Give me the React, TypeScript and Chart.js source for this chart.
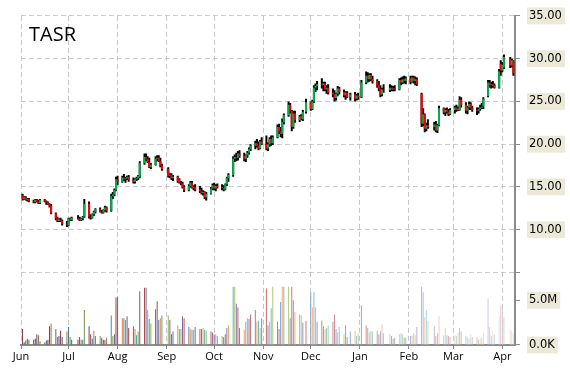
import React, { useEffect, useRef } from 'react';
import { Chart, registerables } from 'chart.js';

Chart.register(...registerables);

// ---- Data (price in USD, volume in millions of shares) ----
const JUN_DAYS = [2, 3, 4, 5, 6, 9, 10, 11, 12, 13, 16, 17, 18, 19, 20, 23, 24, 25, 26, 27, 30];
const JUN_OHLC = [
  [14.0, 14.2, 13.4, 13.6], [13.6, 13.9, 13.5, 13.8], [13.8, 13.9, 13.4, 13.5], [13.5, 13.7, 13.3, 13.6],
  [13.6, 13.7, 13.2, 13.3], [13.3, 13.5, 13.1, 13.2], [13.2, 13.6, 13.1, 13.5], [13.5, 13.6, 13.2, 13.3],
  [13.3, 13.5, 13.0, 13.1], [13.1, 13.6, 13.0, 13.5], [13.5, 13.6, 13.2, 13.3], [13.3, 13.4, 12.9, 13.2],
  [13.2, 13.3, 12.9, 13.0], [13.0, 13.1, 12.6, 12.8], [12.8, 13.0, 11.8, 11.9], [11.9, 12.0, 11.1, 11.3],
  [11.3, 11.5, 10.9, 11.0], [11.0, 11.3, 10.9, 11.2], [11.2, 11.4, 10.9, 11.0], [11.0, 11.2, 10.5, 10.7],
  [10.7, 11.0, 10.3, 10.6],
];
const JUN_VOL = [1.8, 0.3, 0.5, 0.7, 0.6, 0.6, 0.7, 1.2, 1.1, 0.4, 0.3, 0.5, 0.6, 2.1, 2.4, 1.8, 0.9, 1.0, 1.6, 0.9, 1.5];

const JUL_DAYS = [1, 2, 3, 7, 8, 9, 10, 11, 14, 15, 16, 17, 18, 21, 22, 23, 24, 25, 28, 29, 30, 31];
const JUL_OHLC = [
  [10.5, 11.4, 10.4, 11.3], [11.3, 11.4, 11.0, 11.1], [11.1, 11.5, 11.0, 11.4], [11.4, 11.7, 11.2, 11.3],
  [11.3, 11.5, 11.0, 11.1], [11.1, 11.4, 11.0, 11.3], [11.3, 11.6, 11.1, 11.5], [11.5, 13.6, 11.4, 13.0],
  [13.0, 13.3, 11.3, 11.5], [11.5, 11.8, 11.2, 11.4], [11.4, 11.9, 11.3, 11.8], [11.8, 12.2, 11.6, 12.1],
  [12.1, 12.5, 11.9, 12.4], [12.4, 12.6, 12.0, 12.1], [12.1, 12.3, 11.9, 12.0], [12.0, 12.4, 11.9, 12.3],
  [12.3, 12.8, 12.1, 12.6], [12.6, 12.7, 12.0, 12.2], [12.2, 14.2, 12.1, 13.9], [13.9, 14.4, 13.6, 14.1],
  [14.1, 14.8, 13.9, 14.6], [14.6, 16.2, 14.5, 15.9],
];
const JUL_VOL = [2.0, 0.9, 0.6, 0.6, 0.9, 0.6, 0.6, 3.9, 2.1, 1.2, 0.7, 1.6, 1.0, 1.0, 0.8, 0.6, 0.6, 0.8, 3.3, 1.0, 1.2, 5.3];

const AUG_DAYS = [1, 4, 5, 6, 7, 8, 11, 12, 13, 14, 15, 18, 19, 20, 21, 22, 25, 26, 27, 28, 29];
const AUG_OHLC = [
  [15.9, 16.3, 15.2, 15.6], [15.6, 16.3, 15.5, 16.1], [16.1, 16.5, 15.7, 15.9], [15.9, 16.2, 15.5, 16.0],
  [16.0, 16.3, 15.8, 16.2], [16.2, 16.4, 15.6, 15.8], [15.8, 16.1, 15.4, 15.6], [15.6, 16.0, 15.4, 15.9],
  [15.9, 16.2, 15.7, 16.0], [16.0, 16.4, 15.8, 16.3], [16.2, 18.0, 16.0, 17.8], [17.8, 18.9, 17.6, 18.5],
  [18.5, 18.9, 18.0, 18.3], [18.3, 18.6, 17.8, 17.9], [17.9, 18.4, 17.2, 17.3], [17.3, 17.8, 17.1, 17.6],
  [17.6, 18.6, 17.5, 18.3], [18.3, 18.7, 18.0, 18.4], [18.4, 18.7, 17.9, 18.0], [18.0, 18.4, 17.3, 17.5],
  [17.5, 17.7, 16.9, 17.1],
];
const AUG_VOL = [5.4, 3.0, 3.0, 2.8, 3.2, 1.9, 2.1, 1.8, 1.1, 1.5, 6.0, 6.4, 6.4, 3.9, 2.9, 2.4, 4.0, 4.9, 2.8, 3.0, 3.3];

const SEP_DAYS = [2, 3, 4, 5, 8, 9, 10, 11, 12, 15, 16, 17, 18, 19, 22, 23, 24, 25, 26, 29, 30];
const SEP_OHLC = [
  [17.1, 17.3, 16.1, 16.3], [16.3, 16.6, 16.0, 16.4], [16.4, 16.6, 15.8, 16.0], [16.0, 16.4, 15.7, 16.2],
  [16.2, 16.3, 15.5, 15.7], [15.9, 16.0, 15.4, 15.5], [15.5, 15.7, 15.2, 15.4], [15.4, 15.6, 14.8, 15.0],
  [15.0, 15.2, 14.4, 14.6], [14.6, 15.3, 14.5, 15.1], [15.1, 15.7, 14.9, 15.5], [15.5, 15.7, 14.8, 14.9],
  [14.9, 15.2, 14.6, 15.0], [15.0, 15.3, 14.5, 14.7], [14.7, 15.1, 14.3, 14.5], [14.5, 14.9, 14.1, 14.3],
  [14.3, 14.6, 14.0, 14.4], [14.4, 14.5, 13.6, 13.8], [13.8, 14.4, 13.4, 14.2], [14.2, 15.0, 14.1, 14.8],
  [14.8, 15.4, 14.6, 15.2],
];
const SEP_VOL = [3.3, 2.8, 1.2, 1.5, 2.2, 1.8, 1.8, 3.2, 3.0, 2.0, 1.8, 1.7, 1.7, 2.0, 1.8, 1.8, 1.9, 1.7, 1.6, 1.5, 1.4];

const OCT_DAYS = [1, 2, 3, 6, 7, 8, 9, 10, 13, 14, 15, 16, 17, 20, 21, 22, 23, 24, 27, 28, 29, 30, 31];
const OCT_OHLC = [
  [15.2, 15.5, 14.6, 14.8], [14.8, 15.3, 14.5, 15.1], [15.1, 15.4, 14.8, 15.0], [15.0, 15.3, 14.6, 14.9],
  [14.9, 15.2, 14.5, 14.7], [14.7, 15.4, 14.6, 15.3], [15.3, 16.2, 15.1, 16.0], [16.0, 16.6, 15.6, 16.4],
  [16.4, 18.6, 16.2, 18.3], [18.3, 18.8, 17.9, 18.5], [18.5, 19.0, 18.0, 18.4], [18.4, 19.2, 18.1, 18.9],
  [18.9, 19.3, 18.4, 18.6], [18.6, 19.0, 18.0, 18.3], [18.3, 18.8, 17.9, 18.7], [18.7, 19.2, 18.4, 19.0],
  [19.0, 19.6, 18.8, 19.4], [19.4, 20.0, 19.2, 19.8], [19.8, 20.4, 19.4, 20.1], [20.1, 20.6, 19.6, 19.8],
  [19.8, 20.3, 19.3, 19.5], [19.5, 20.5, 19.4, 20.3], [20.3, 20.8, 19.9, 20.0],
];
const OCT_VOL = [1.2, 1.2, 1.0, 1.0, 0.9, 1.2, 1.9, 2.2, 6.5, 6.5, 4.6, 4.2, 1.9, 1.7, 2.6, 3.0, 2.9, 3.4, 3.9, 2.6, 2.7, 1.9, 3.0];

const NOV_DAYS = [3, 4, 5, 6, 7, 10, 11, 12, 13, 14, 17, 18, 19, 20, 21, 24, 25, 26, 28];
const NOV_OHLC = [
  [20.0, 21.0, 19.3, 19.5], [19.5, 20.2, 19.2, 20.0], [20.0, 20.8, 19.7, 20.6], [20.6, 21.0, 19.8, 20.1],
  [20.1, 21.0, 19.9, 20.8], [20.8, 22.3, 20.7, 22.0], [22.0, 22.4, 21.2, 21.5], [21.5, 22.0, 20.8, 21.2],
  [21.2, 23.0, 20.7, 22.6], [22.6, 23.6, 22.3, 23.4], [23.4, 25.0, 23.2, 24.6], [24.6, 24.8, 23.6, 23.9],
  [23.9, 24.0, 21.5, 22.0], [22.0, 23.9, 21.8, 23.6], [23.6, 23.9, 22.5, 22.8], [22.8, 23.4, 22.6, 23.2],
  [23.3, 23.5, 22.8, 22.9], [22.9, 24.0, 22.7, 23.8], [23.8, 25.3, 23.6, 24.9],
];
const NOV_VOL = [6.3, 2.2, 2.6, 4.1, 6.5, 2.6, 1.8, 4.8, 6.5, 6.5, 6.5, 3.0, 6.5, 5.0, 3.7, 3.4, 3.3, 2.5, 2.7];

const DEC_DAYS = [1, 2, 3, 4, 5, 8, 9, 10, 11, 12, 15, 16, 17, 18, 19, 22, 23, 24, 26, 29, 30, 31];
const DEC_OHLC = [
  [24.9, 25.0, 23.9, 24.1], [24.1, 25.2, 24.0, 25.0], [25.0, 26.9, 24.8, 26.6], [26.6, 27.1, 26.1, 26.8],
  [26.8, 27.4, 26.3, 27.0], [27.0, 27.7, 26.5, 26.9], [26.9, 27.3, 26.2, 27.1], [27.1, 27.3, 26.2, 26.4],
  [26.4, 26.9, 25.9, 26.6], [26.6, 27.0, 25.8, 26.0], [26.0, 26.5, 25.5, 25.8], [25.8, 26.3, 25.0, 25.4],
  [25.4, 26.0, 25.1, 25.9], [25.9, 26.8, 25.6, 26.5], [26.5, 26.7, 25.8, 26.1], [26.1, 26.4, 25.5, 25.7],
  [25.7, 26.2, 25.2, 26.0], [26.0, 26.2, 25.4, 25.5], [25.5, 26.0, 25.1, 25.8], [25.8, 26.1, 25.0, 25.3],
  [25.3, 25.9, 25.1, 25.7], [25.7, 26.0, 25.2, 25.5],
];
const DEC_VOL = [5.9, 4.2, 5.9, 4.2, 2.6, 2.7, 2.1, 1.8, 1.9, 2.2, 2.6, 3.4, 1.8, 1.4, 2.0, 1.2, 2.2, 0.9, 1.5, 1.6, 1.0, 1.3];

const JAN_DAYS = [2, 5, 6, 7, 8, 9, 12, 13, 14, 15, 16, 20, 21, 22, 23, 26, 27, 28, 29, 30];
const JAN_OHLC = [
  [25.5, 27.5, 25.4, 27.2], [27.2, 28.5, 27.0, 28.0], [28.0, 28.4, 27.2, 27.6], [27.6, 28.3, 27.3, 28.1],
  [28.1, 28.3, 27.4, 27.6], [27.6, 28.0, 27.1, 27.4], [27.4, 27.6, 26.6, 26.9], [26.9, 27.4, 26.2, 26.5],
  [26.5, 26.9, 25.5, 25.8], [25.8, 26.6, 25.6, 26.4], [26.4, 27.0, 26.0, 26.3], [26.3, 27.0, 26.1, 26.6],
  [26.6, 26.9, 26.2, 26.4], [26.4, 26.8, 26.2, 26.5], [26.5, 26.9, 26.2, 26.4], [26.4, 27.7, 26.3, 27.5],
  [27.5, 27.8, 26.9, 27.2], [27.2, 27.9, 27.0, 27.6], [27.6, 28.0, 27.1, 27.4], [27.4, 27.9, 27.0, 27.7],
];
const JAN_VOL = [4.4, 2.2, 1.9, 1.4, 1.6, 1.5, 1.6, 1.2, 1.5, 2.3, 1.3, 1.2, 1.0, 0.7, 0.8, 1.2, 1.3, 1.2, 0.8, 0.8];

const FEB_DAYS = [2, 3, 4, 5, 6, 9, 10, 11, 12, 13, 17, 18, 19, 20, 23, 24, 25, 26, 27];
const FEB_OHLC = [
  [27.7, 28.0, 27.0, 27.3], [27.3, 28.0, 27.2, 27.8], [27.8, 28.0, 27.1, 27.4], [27.4, 27.9, 26.9, 27.6],
  [27.6, 27.8, 26.8, 27.0], [25.9, 26.0, 22.0, 22.4], [22.4, 24.2, 22.1, 23.5], [23.5, 23.6, 21.4, 21.8],
  [21.8, 22.5, 21.5, 22.2], [22.2, 22.9, 21.8, 22.0], [22.0, 22.6, 21.6, 22.3], [22.3, 22.7, 21.4, 21.6],
  [21.6, 22.4, 21.3, 22.2], [22.2, 24.5, 22.1, 24.2], [24.2, 24.3, 23.5, 23.7], [23.7, 24.2, 23.3, 24.0],
  [24.0, 24.3, 23.6, 23.8], [23.8, 24.1, 23.3, 23.5], [23.5, 24.2, 23.4, 24.0],
];
const FEB_VOL = [1.0, 1.1, 1.3, 1.1, 2.0, 6.5, 5.9, 3.1, 3.9, 2.7, 2.1, 1.0, 1.3, 3.2, 1.1, 1.9, 1.1, 1.0, 0.9];

const MAR_DAYS = [2, 3, 4, 5, 6, 9, 10, 11, 12, 13, 16, 17, 18, 19, 20, 23, 24, 25, 26, 27, 30, 31];
const MAR_OHLC = [
  [24.0, 24.5, 23.6, 24.3], [24.3, 24.6, 23.8, 24.0], [24.2, 24.4, 23.9, 24.0], [24.0, 25.6, 23.9, 25.2],
  [25.2, 25.5, 24.3, 24.6], [24.6, 24.9, 23.6, 23.9], [23.9, 24.5, 23.5, 24.3], [24.3, 25.0, 24.0, 24.7],
  [24.7, 24.9, 24.0, 24.2], [24.2, 24.5, 23.8, 24.0], [24.0, 24.3, 23.4, 23.9], [23.9, 24.3, 23.6, 24.1],
  [24.1, 24.6, 23.9, 24.3], [24.3, 24.8, 24.1, 24.4], [24.4, 25.5, 24.1, 25.3], [25.6, 27.5, 25.5, 27.2],
  [27.2, 27.5, 26.6, 26.9], [26.9, 27.3, 26.5, 27.0], [27.0, 27.4, 26.6, 26.8], [26.9, 27.1, 26.5, 26.6],
  [26.6, 28.8, 26.5, 28.5], [29.4, 29.8, 28.0, 28.6],
];
const MAR_VOL = [1.1, 1.0, 1.4, 1.9, 1.5, 1.0, 0.9, 0.7, 1.2, 0.9, 0.9, 0.6, 0.7, 0.8, 1.3, 5.2, 2.0, 1.0, 1.6, 1.2, 3.2, 4.5];

const APR_DAYS = [1, 2, 6, 7, 8];
const APR_OHLC = [
  [28.6, 29.6, 28.4, 29.3], [29.0, 30.5, 28.8, 30.2], [30.0, 30.2, 28.9, 29.2], [29.2, 30.0, 29.0, 29.8],
  [29.7, 29.8, 28.0, 28.3],
];
const APR_VOL = [4.2, 3.1, 1.7, 1.6, 1.2];

const MONTH_LABELS = ['Jun', 'Jul', 'Aug', 'Sep', 'Oct', 'Nov', 'Dec', 'Jan', 'Feb', 'Mar', 'Apr'];
const MONTH_YEARS = [2014, 2014, 2014, 2014, 2014, 2014, 2014, 2015, 2015, 2015, 2015];
const MONTH_NUMS = [5, 6, 7, 8, 9, 10, 11, 0, 1, 2, 3];
const MONTH_SERIES = [
  [JUN_DAYS, JUN_OHLC, JUN_VOL], [JUL_DAYS, JUL_OHLC, JUL_VOL], [AUG_DAYS, AUG_OHLC, AUG_VOL],
  [SEP_DAYS, SEP_OHLC, SEP_VOL], [OCT_DAYS, OCT_OHLC, OCT_VOL], [NOV_DAYS, NOV_OHLC, NOV_VOL],
  [DEC_DAYS, DEC_OHLC, DEC_VOL], [JAN_DAYS, JAN_OHLC, JAN_VOL], [FEB_DAYS, FEB_OHLC, FEB_VOL],
  [MAR_DAYS, MAR_OHLC, MAR_VOL], [APR_DAYS, APR_OHLC, APR_VOL],
];

const PRICE_TICKS = [5, 10, 15, 20, 25, 30, 35];
const VOLUME_TICKS = [0, 5];

const ORIGIN = Date.UTC(2014, 5, 1);
const dayIndex = (y: number, m: number, d: number) => Math.round((Date.UTC(y, m, d) - ORIGIN) / 86400000);

type Pt = { x: number; o: number; h: number; l: number; c: number; v: number };
const POINTS: Pt[] = [];
MONTH_SERIES.forEach((ms, mi) => {
  const days = ms[0] as number[];
  const ohlc = ms[1] as number[][];
  const vol = ms[2] as number[];
  days.forEach((d, i) => {
    const [o, h, l, c] = ohlc[i];
    POINTS.push({ x: dayIndex(MONTH_YEARS[mi], MONTH_NUMS[mi], d), o, h, l, c, v: vol[i] });
  });
});
const MONTH_STARTS = MONTH_LABELS.map((_, i) => dayIndex(MONTH_YEARS[i], MONTH_NUMS[i], 1));

// Office-like palette, darker at the start and fading toward the end
const HUES = ['#C0504D', '#4F81BD', '#F79646', '#4BACC6', '#9BBB59', '#8064A2'];
function shade(hex: string, t: number) {
  const ch = [1, 3, 5].map((k) => parseInt(hex.slice(k, k + 2), 16));
  const out = ch.map((c) => Math.round(t < 0 ? c * (1 + t) : c + (255 - c) * t));
  return `rgb(${out[0]},${out[1]},${out[2]})`;
}

const GRID = '#c8c8c8';
const AXIS = '#8c8c8c';
const DASH = [5, 3];

export default function App() {
  const ref = useRef<HTMLCanvasElement | null>(null);
  useEffect(() => {
    if (!ref.current) return;
    const n = POINTS.length;
    const volColors = POINTS.map((_, i) => shade(HUES[i % HUES.length], -0.35 + 1.05 * (i / (n - 1))));
    const labelFont = { family: 'DejaVu Sans', size: 11.5 };
    const titlePlugin = {
      id: 'tickerTitle',
      afterDraw(chart: any) {
        const ctx = chart.ctx;
        ctx.save();
        ctx.fillStyle = '#000';
        ctx.font = '20px "Open Sans"';
        ctx.textBaseline = 'alphabetic';
        ctx.textAlign = 'left';
        ctx.fillText('TASR', chart.chartArea.left + 8, chart.chartArea.top + 25);
        ctx.restore();
      },
    };
    const chart = new Chart(ref.current, {
      type: 'bar',
      data: {
        datasets: [
          {
            label: 'Volume',
            data: POINTS.map((p) => ({ x: p.x, y: p.v })),
            yAxisID: 'yv',
            backgroundColor: volColors,
            barThickness: 1,
            inflateAmount: 0,
            grouped: false,
            order: 3,
          } as any,
          {
            label: 'Range',
            data: POINTS.map((p) => ({ x: p.x, y: [p.l, p.h] })),
            yAxisID: 'y',
            backgroundColor: '#000000',
            barThickness: 2,
            inflateAmount: 0,
            grouped: false,
            order: 2,
          } as any,
          {
            label: 'Body',
            data: POINTS.map((p) => ({ x: p.x, y: [Math.min(p.o, p.c), Math.max(p.o, p.c)] })),
            yAxisID: 'y',
            backgroundColor: POINTS.map((p) => (p.c >= p.o ? '#00B050' : '#FF0000')),
            barThickness: 2,
            inflateAmount: 0,
            grouped: false,
            order: 1,
          } as any,
        ],
      },
      options: {
        responsive: false,
        animation: false,
        devicePixelRatio: 1,
        layout: { padding: { left: 21, top: 14, right: 0, bottom: 0 } },
        plugins: { legend: { display: false }, tooltip: { enabled: false }, title: { display: false } },
        scales: {
          x: {
            type: 'linear',
            min: 0,
            max: 312,
            offset: false,
            position: 'bottom',
            grid: { offset: false, color: GRID, lineWidth: 1, tickLength: 4, tickColor: AXIS, drawTicks: true },
            border: { display: true, color: AXIS, width: 2, dash: DASH },
            ticks: {
              autoSkip: false,
              maxRotation: 0,
              padding: 1,
              color: '#000',
              font: { family: 'Open Sans', size: 11 },
              callback: (v: any) => {
                const i = MONTH_STARTS.indexOf(Number(v));
                return i >= 0 ? MONTH_LABELS[i] : '';
              },
            },
            afterBuildTicks: (s: any) => {
              s.ticks = MONTH_STARTS.map((v) => ({ value: v }));
            },
            afterFit: (s: any) => {
              s.height = 25;
            },
          },
          y: {
            type: 'linear',
            position: 'right',
            stack: 'pane',
            stackWeight: 258,
            weight: 0,
            min: 5,
            max: 35,
            offset: false,
            grid: { color: GRID, lineWidth: 1, tickLength: 5, tickColor: AXIS },
            border: { display: true, color: AXIS, width: 2, dash: DASH },
            ticks: {
              autoSkip: false,
              padding: 9,
              color: '#000',
              font: labelFont,
              callback: (v: any) => (Number(v) === 5 ? '' : Number(v).toFixed(2)),
              showLabelBackdrop: (ctx: any) => !!ctx.tick && ctx.tick.value !== 5,
              backdropColor: '#ECE9D8',
              backdropPadding: { top: 1.5, bottom: 1.5, left: 2, right: 3 },
            },
            afterBuildTicks: (s: any) => {
              s.ticks = PRICE_TICKS.map((v) => ({ value: v }));
            },
            afterFit: (s: any) => {
              s.width = 55;
            },
          },
          yv: {
            type: 'linear',
            position: 'right',
            stack: 'pane',
            stackWeight: 73,
            weight: 1,
            min: 0,
            max: 8.11,
            offset: false,
            grid: { drawOnChartArea: false, tickLength: 5, tickColor: AXIS },
            border: { display: true, color: AXIS, width: 2 },
            ticks: {
              autoSkip: false,
              padding: 9,
              color: '#000',
              font: labelFont,
              callback: (v: any) => (Number(v) === 0 ? '0.0K' : Number(v).toFixed(1) + 'M'),
              showLabelBackdrop: true,
              backdropColor: '#ECE9D8',
              backdropPadding: { top: 1.5, bottom: 1.5, left: 2, right: 3 },
            },
            afterBuildTicks: (s: any) => {
              s.ticks = VOLUME_TICKS.map((v) => ({ value: v }));
            },
            afterFit: (s: any) => {
              s.width = 55;
            },
          },
        },
      } as any,
      plugins: [titlePlugin],
    });
    return () => chart.destroy();
  }, []);
  return (
    <div style={{ position: 'absolute', left: 0, top: 0, width: 570, height: 370, background: '#fff' }}>
      <canvas ref={ref} width={570} height={370} style={{ display: 'block' }} />
    </div>
  );
}
